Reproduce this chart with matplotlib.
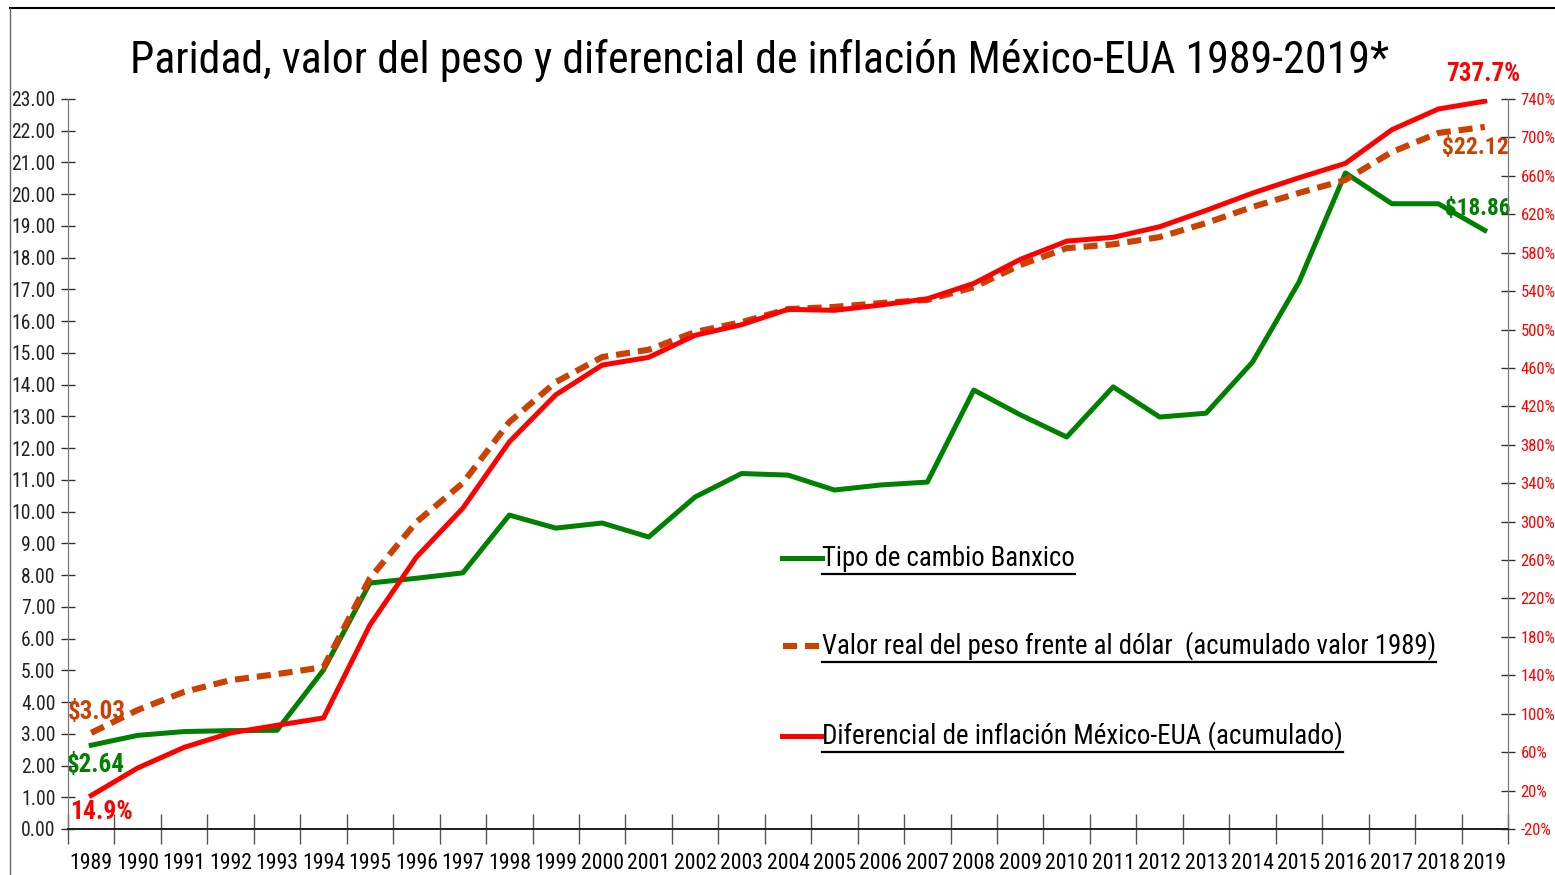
import matplotlib
matplotlib.use("Agg")
import matplotlib.pyplot as plt
from matplotlib import font_manager as fm
from matplotlib.lines import Line2D
import numpy as np

# data
years = list(range(1989, 2020))
tipo_cambio = [2.64, 2.95, 3.07, 3.10, 3.11, 5.01, 7.75, 7.90, 8.07, 9.89,
               9.48, 9.64, 9.20, 10.46, 11.20, 11.15, 10.68, 10.84, 10.93, 13.83,
               13.05, 12.35, 13.93, 12.98, 13.10, 14.71, 17.23, 20.67, 19.70, 19.70,
               18.86]
valor_real = [3.03, 3.75, 4.32, 4.69, 4.88, 5.10, 7.90, 9.67, 10.90, 12.82,
              14.08, 14.87, 15.10, 15.66, 15.97, 16.38, 16.45, 16.57, 16.67, 17.07,
              17.77, 18.30, 18.42, 18.65, 19.09, 19.60, 20.04, 20.45, 21.33, 21.93,
              22.12]
diferencial = [14.9, 43.5, 65.0, 80.0, 88.0, 95.6, 192.4, 263.0, 314.0, 383.0,
               432.0, 463.0, 471.0, 494.0, 505.0, 521.0, 520.0, 525.5, 532.0, 548.0,
               573.0, 592.0, 596.0, 607.0, 624.0, 642.0, 658.0, 673.0, 708.0, 729.6,
               737.7]

title = "Paridad, valor del peso y diferencial de inflación México-EUA 1989-2019*"
legend_labels = ["Tipo de cambio Banxico",
                 "Valor real del peso frente al dólar  (acumulado valor 1989)",
                 "Diferencial de inflación México-EUA (acumulado)"]

GREEN = '#008000'
RED = '#FF0000'
ORANGE = '#CC4000'


def pick_narrow_font():
    # the original uses a condensed face; take one if the system has it
    names = {}
    for f in fm.fontManager.ttflist:
        st = str(f.stretch)
        narrow = ('Narrow' in f.name or 'Condensed' in f.name
                  or st in ('condensed', 'semi-condensed', 'extra-condensed', 'ultra-condensed')
                  or (st.isdigit() and int(st) < 500))
        if narrow:
            names.setdefault(f.name, st)
    prefs = ['Liberation Sans Narrow', 'Roboto Condensed', 'Open Sans Condensed',
             'Noto Sans', 'Open Sans', 'Roboto', 'DejaVu Sans']
    for p in prefs:
        if p in names:
            return p, names[p]
    for n in names:
        if 'Narrow' in n or 'Condensed' in n:
            return n, names[n]
    return 'DejaVu Sans', 'normal'


fam, stretch = pick_narrow_font()
plt.rcParams['font.family'] = [fam, 'DejaVu Sans']
if not str(stretch).isdigit():
    plt.rcParams['font.stretch'] = stretch if fam in ('Noto Sans', 'Open Sans', 'Roboto', 'DejaVu Sans') else 'normal'

W, H = 1555, 875
fig = plt.figure(figsize=(W / 100, H / 100), dpi=100)


def fx(x):
    return x / W


def fy(y):
    return 1 - y / H


ax = fig.add_axes([fx(68), fy(829), fx(1508) - fx(68), fy(99) - fy(829)])
ax2 = ax.twinx()

x = np.arange(len(years))
ax.plot(x, tipo_cambio, color=GREEN, lw=3.6, zorder=3)
ax.plot(x, valor_real, color=ORANGE, lw=4.4, dashes=(2.3, 1.3), zorder=4)
ax2.plot(x, diferencial, color=RED, lw=3.6, zorder=3)

ax.set_xlim(-0.5, len(years) - 0.5)
ax.set_ylim(0, 23)
ax2.set_ylim(-20, 740)

ax.set_yticks(np.arange(0, 24, 1))
ax.set_yticklabels([f"{v:.2f}" for v in range(0, 24)])
ax2.set_yticks(np.arange(-20, 741, 40))
ax2.set_yticklabels([f"{v}%" for v in range(-20, 741, 40)])

ax.set_xticks(np.arange(-0.5, len(years), 1))
ax.set_xticklabels([])
ax.set_xticks(x, minor=True)
ax.set_xticklabels([str(y) for y in years], minor=True)

ax.tick_params(axis='x', which='major', direction='inout', length=22, width=1, color='#555555')
ax.tick_params(axis='x', which='minor', length=0, labelsize=16, pad=17)
ax.tick_params(axis='y', direction='inout', length=10, width=1, labelsize=14,
               color='#333333', labelcolor='#222222', pad=4)
ax2.tick_params(axis='y', direction='inout', length=10, width=1, labelsize=14,
                color='#333333', labelcolor=RED, pad=4)

for a in (ax, ax2):
    a.spines['top'].set_visible(False)
    a.spines['left'].set_color('#777777')
    a.spines['right'].set_color('#777777')
    a.spines['bottom'].set_color('#222222')
    a.spines['bottom'].set_linewidth(1.3)

# end labels: (axes, text, point, offset px, ha, colour, target width px)
lab = dict(textcoords='offset pixels', fontsize=20, fontweight='bold', va='center')
ends = [
    (ax, f"${valor_real[0]:.2f}", (x[0], valor_real[0]), (-23, 21), 'left', ORANGE, 58),
    (ax, f"${tipo_cambio[0]:.2f}", (x[0], tipo_cambio[0]), (-24, -20), 'left', GREEN, 58),
    (ax2, f"{diferencial[0]:.1f}%", (x[0], diferencial[0]), (-21, -17), 'left', RED, 63),
    (ax2, f"{diferencial[-1]:.1f}%", (x[-1], diferencial[-1]), (-2, 27), 'center', RED, 74),
    (ax, f"${valor_real[-1]:.2f}", (x[-1], valor_real[-1]), (-9, -21), 'center', ORANGE, 66),
    (ax, f"${tipo_cambio[-1]:.2f}", (x[-1], tipo_cambio[-1]), (-7, 22), 'center', GREEN, 66),
]
fit = []
for a, s, xy, off, ha, col, wpx in ends:
    t = a.annotate(s, xy=xy, xytext=off, ha=ha, color=col, **lab)
    fit.append((t, wpx))

t = fig.text(fx(760), fy(60), title, ha='center', va='center', fontsize=36, color='black')
fit.append((t, 1260))

# legend drawn by hand with underlined labels
leg_y = [558, 646, 736]
leg_w = [252, 615, 520]
leg_texts = []
for lbl, yy, col, wpx in zip(legend_labels, leg_y, [GREEN, ORANGE, RED], leg_w):
    if col == ORANGE:
        fig.add_artist(Line2D([fx(783), fx(820)], [fy(yy), fy(yy)], color=col, lw=4.4,
                              dashes=(2.3, 1.3)))
    else:
        fig.add_artist(Line2D([fx(782), fx(822)], [fy(yy), fy(yy)], color=col, lw=3.6))
    t = fig.text(fx(822), fy(yy), lbl, ha='left', va='center', fontsize=21, color='black')
    leg_texts.append((t, yy))
    fit.append((t, wpx))

r = fig.canvas.get_renderer()


def width(t):
    return t.get_window_extent(r).width


# scale text sizes so widths match the reference
for _ in range(2):
    fig.canvas.draw()
    for t, wpx in fit:
        t.set_fontsize(t.get_fontsize() * wpx / width(t))
    for axis_lbls, tgt, a, kw in [
        (ax.get_yticklabels(), 44, ax, dict(axis='y')),
        (ax2.get_yticklabels(), 35, ax2, dict(axis='y')),
        (ax.get_xticklabels(minor=True), 43, ax, dict(axis='x', which='minor')),
    ]:
        lb = axis_lbls[-1]
        a.tick_params(labelsize=lb.get_fontsize() * tgt / width(lb), **kw)

fig.canvas.draw()
for t, yy in leg_texts:
    bb = t.get_window_extent(r)
    fig.add_artist(Line2D([bb.x0 / W, bb.x1 / W], [fy(yy + 16), fy(yy + 16)],
                          color='black', lw=1.6))

# outer chart frame (top and left edges visible)
fig.add_artist(Line2D([fx(10), 1], [fy(8), fy(8)], color='black', lw=1.5))
fig.add_artist(Line2D([fx(10), fx(10)], [fy(8), 0], color='#666666', lw=1))

fig.savefig("out.png", dpi=100)
